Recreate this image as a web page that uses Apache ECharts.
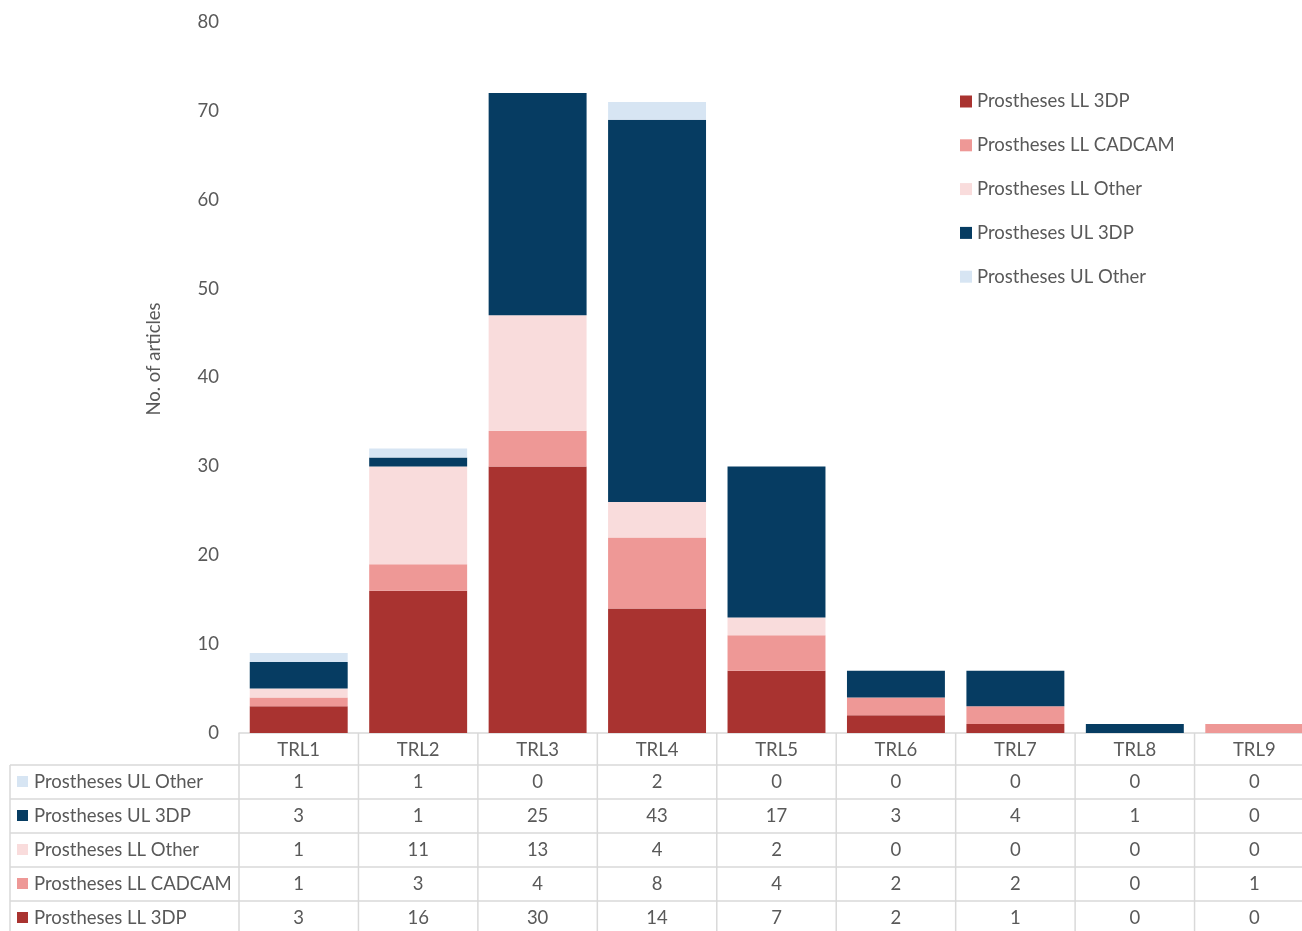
<!DOCTYPE html>
<html><head><meta charset="utf-8">
<script src="https://cdn.jsdelivr.net/npm/echarts@6/dist/echarts.min.js"></script>
<style>html,body{margin:0;padding:0;background:#fff}#c{width:1302px;height:931px}</style>
</head><body><div id="c"></div>
<script>
const categories = ['TRL1','TRL2','TRL3','TRL4','TRL5','TRL6','TRL7','TRL8','TRL9'];
const llPrint  = [3,16,30,14,7,2,1,0,0];
const llCadcam = [1,3,4,8,4,2,2,0,1];
const llOther  = [1,11,13,4,2,0,0,0,0];
const ulPrint  = [3,1,25,43,17,3,4,1,0];
const ulOther  = [1,1,0,2,0,0,0,0,0];
const seriesNames = ['Prostheses LL 3DP','Prostheses LL CADCAM','Prostheses LL Other','Prostheses UL 3DP','Prostheses UL Other'];
const seriesData = [llPrint, llCadcam, llOther, ulPrint, ulOther];
const colors = ['#a93330','#ee9896','#f9dcdc','#063c62','#d7e5f3'];
const yTicks = [0,10,20,30,40,50,60,70,80];

const FONT = 'Lato, "Open Sans", sans-serif';
const FS = 18.5;
const TXT = '#595959';
const chart = echarts.init(document.getElementById('c'));
chart.setOption({
  animation:false,
  textStyle:{fontFamily:FONT},
  grid:{left:239, top:22, height:711, width:1075, outerBoundsMode:'none', containLabel:false},
  legend:{
    orient:'vertical', left:955, top:87, itemGap:24.8, itemWidth:12, itemHeight:12,
    icon:'rect', data:seriesNames,
    textStyle:{fontSize:FS, color:TXT, fontFamily:FONT}
  },
  xAxis:{
    type:'category', data:categories,
    axisLine:{lineStyle:{color:'#d9d9d9', width:1.5}},
    axisTick:{show:false},
    axisLabel:{fontSize:FS, color:TXT, margin:8, fontFamily:FONT}
  },
  yAxis:{
    type:'value', min:yTicks[0], max:yTicks[yTicks.length-1], interval:10,
    axisLine:{show:false}, axisTick:{show:false}, splitLine:{show:false},
    axisLabel:{fontSize:FS, color:TXT, margin:20, fontFamily:FONT}
  },
  series: seriesNames.map((n,i)=>({
    name:n, type:'bar', stack:'total', data:seriesData[i],
    barWidth:'82%', itemStyle:{color:colors[i]}
  }))
});

// data table below the axis
const rowOrder = [4,3,2,1,0];
const y0 = chart.convertToPixel({yAxisIndex:0}, 0);
const xs = categories.map(c=>chart.convertToPixel({xAxisIndex:0}, c));
const colW = xs[1]-xs[0];
const leftEdge = xs[0]-colW/2;
const headerBottom = y0 + 32;
const rowH = 34;
const g = [];
const lineStyle = {stroke:'#d9d9d9', lineWidth:1.5};
g.push({type:'text', x:154, y:359, rotation:Math.PI/2, style:{text:'No. of articles', fill:TXT, font:FS+'px '+FONT, align:'center', textAlign:'center', verticalAlign:'middle', textVerticalAlign:'middle'}, silent:true});
for (let k=0;k<=categories.length;k++){
  const x = leftEdge + k*colW;
  g.push({type:'line', shape:{x1:x,y1:y0,x2:x,y2:960}, style:lineStyle, silent:true});
}
g.push({type:'line', shape:{x1:10,y1:headerBottom,x2:10,y2:960}, style:lineStyle, silent:true});
for (let r=0;r<=5;r++){
  const y = headerBottom + r*rowH;
  g.push({type:'line', shape:{x1:10,y1:y,x2:1320,y2:y}, style:lineStyle, silent:true});
}
rowOrder.forEach((si,r)=>{
  const cy = headerBottom + r*rowH + rowH/2;
  g.push({type:'rect', shape:{x:17,y:cy-6,width:11,height:11}, style:{fill:colors[si]}, silent:true});
  g.push({type:'text', x:34, y:cy, style:{text:seriesNames[si], fill:TXT, font:FS+'px '+FONT, textVerticalAlign:'middle', verticalAlign:'middle'}, silent:true});
  seriesData[si].forEach((v,ci)=>{
    g.push({type:'text', x:xs[ci], y:cy, style:{text:String(v), fill:TXT, font:FS+'px '+FONT, align:'center', textAlign:'center', verticalAlign:'middle', textVerticalAlign:'middle'}, silent:true});
  });
});
chart.setOption({graphic:{elements:g}});
</script></body></html>
